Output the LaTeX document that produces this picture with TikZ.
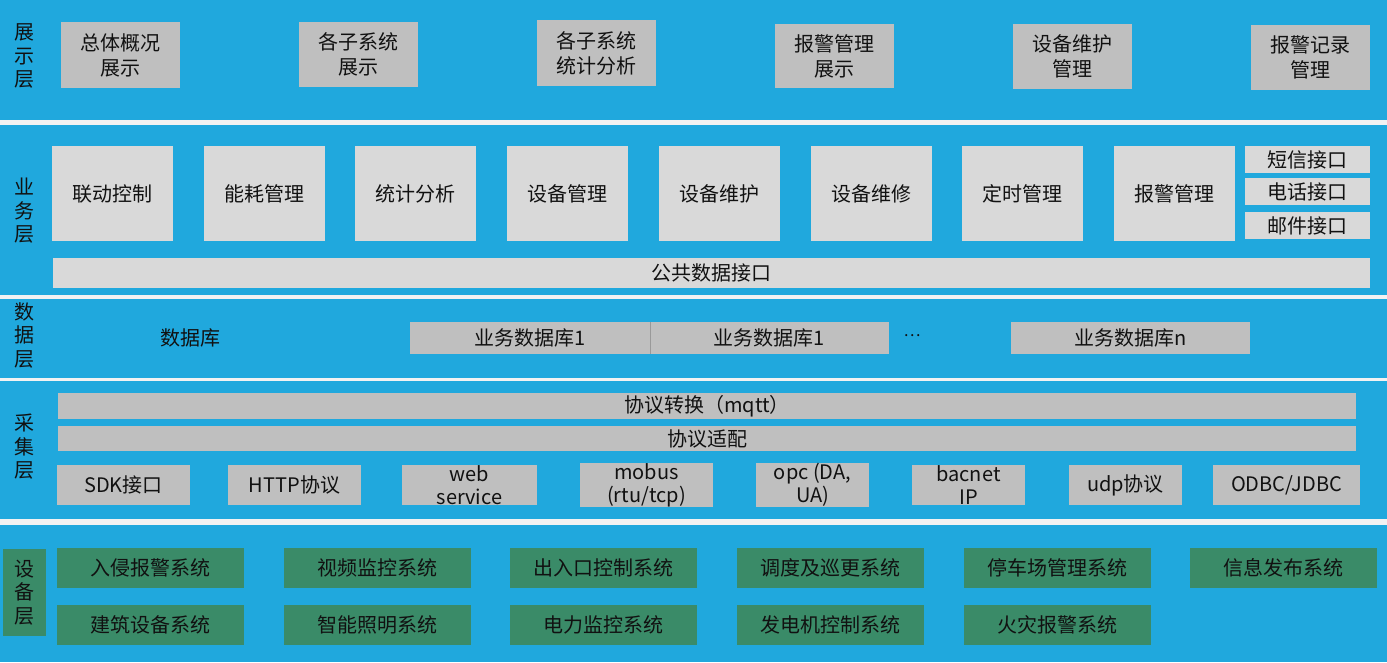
\documentclass[tikz,border=0pt]{standalone}
\usepackage{fontspec}
\setmainfont{Noto Sans CJK SC}
\definecolor{bgblue}{HTML}{20A8DD}
\definecolor{sepw}{HTML}{F2F2F2}
\definecolor{gA}{HTML}{BFBFBF}
\definecolor{gB}{HTML}{D9D9D9}
\definecolor{grn}{HTML}{3A8B68}
\definecolor{txt}{HTML}{111111}
\newcommand\myfs{\fontsize{20}{25}\selectfont}
\newcommand\bx[7]{\node[#2, minimum width={(#5-#3)*1pt}, minimum height={(#6-#4)*1pt}] (#1) at ({(#3+#5)/2},{(#4+#6)/2}) {#7};}
\begin{document}
\begin{tikzpicture}[x=1pt,y=-1pt,
  base/.style={inner sep=0pt, outer sep=0pt, align=center, text=txt, font=\myfs},
  boxA/.style={base, fill=gA},
  boxB/.style={base, fill=gB},
  boxG/.style={base, fill=grn},
  lbl/.style={base, font=\fontsize{20}{23.5}\selectfont},
  two/.style={font=\fontsize{20}{23}\selectfont},
  sep/.style={fill=sepw}]
\useasboundingbox (0,0) rectangle (1387,662);
\fill[bgblue] (0,0) rectangle (1387,662);
% separators
\fill[sep] (0,120) rectangle (1387,124.5);
\fill[sep] (0,294.5) rectangle (1387,298.5);
\fill[sep] (0,377.5) rectangle (1387,381);
\fill[sep] (0,519) rectangle (1387,525);
% layer labels
\node[lbl] (L1) at (24,56) {展\\示\\层};
\node[lbl] (L2) at (24,211) {业\\务\\层};
\node[lbl] (L3) at (24,335) {数\\据\\层};
\node[lbl] (L4) at (24,447) {采\\集\\层};
\bx{L5}{boxG,lbl}{3}{549}{46}{636}{设\\备\\层}
% presentation layer
\bx{p1}{boxA}{61}{22}{180}{88}{总体概况\\展示}
\bx{p2}{boxA}{299}{22}{418}{87}{各子系统\\展示}
\bx{p3}{boxA}{537}{20}{656}{86}{各子系统\\统计分析}
\bx{p4}{boxA}{775}{24}{894}{88}{报警管理\\展示}
\bx{p5}{boxA}{1013}{24}{1132}{89}{设备维护\\管理}
\bx{p6}{boxA}{1251}{25}{1370}{90}{报警记录\\管理}
% business layer
\bx{b1}{boxB}{52}{146}{173}{241}{联动控制}
\bx{b2}{boxB}{204}{146}{325}{241}{能耗管理}
\bx{b3}{boxB}{355}{146}{476}{241}{统计分析}
\bx{b4}{boxB}{507}{146}{628}{241}{设备管理}
\bx{b5}{boxB}{659}{146}{780}{241}{设备维护}
\bx{b6}{boxB}{811}{146}{932}{241}{设备维修}
\bx{b7}{boxB}{962}{146}{1083}{241}{定时管理}
\bx{b8}{boxB}{1114}{146}{1235}{241}{报警管理}
\bx{i1}{boxB}{1245}{146}{1370}{173}{短信接口}
\bx{i2}{boxB}{1245}{178}{1370}{205}{电话接口}
\bx{i3}{boxB}{1245}{212}{1370}{239}{邮件接口}
\bx{pub}{boxB}{53}{258}{1370}{288}{公共数据接口}
% data layer
\node[base] (db) at (190,338) {数据库};
\bx{d1}{boxA}{410}{322}{650}{354}{业务数据库1}
\bx{d2}{boxA}{650}{322}{889}{354}{业务数据库1}
\draw[gray!80, line width=0.6pt] (d1.north east) -- (d1.south east);
\node[base, font=\fontsize{16}{20}\selectfont] (dots) at (912,336) {…};
\bx{dn}{boxA}{1011}{322}{1250}{354}{业务数据库n}
% collection layer
\bx{c1}{boxA}{58}{393}{1356}{419}{协议转换（mqtt）}
\bx{c2}{boxA}{58}{426}{1356}{451}{协议适配}
\bx{s1}{boxA}{57}{465}{190}{505}{SDK接口}
\bx{s2}{boxA}{228}{465}{361}{505}{HTTP协议}
\bx{s3}{boxA,two}{402}{465}{537}{505}{web\\service}
\bx{s4}{boxA,two}{580}{465}{713}{505}{mobus\\(rtu/tcp)}
\bx{s5}{boxA,two}{756}{465}{869}{505}{opc (DA,\\UA)}
\bx{s6}{boxA,two}{912}{465}{1025}{505}{bacnet\\IP}
\bx{s7}{boxA}{1069}{465}{1182}{505}{udp协议}
\bx{s8}{boxA}{1213}{465}{1360}{505}{ODBC/JDBC}
% device layer
\bx{e1}{boxG}{57}{548}{244}{588}{入侵报警系统}
\bx{e2}{boxG}{284}{548}{471}{588}{视频监控系统}
\bx{e3}{boxG}{510}{548}{697}{588}{出入口控制系统}
\bx{e4}{boxG}{737}{548}{924}{588}{调度及巡更系统}
\bx{e5}{boxG}{964}{548}{1151}{588}{停车场管理系统}
\bx{e6}{boxG}{1190}{548}{1377}{588}{信息发布系统}
\bx{f1}{boxG}{57}{605}{244}{645}{建筑设备系统}
\bx{f2}{boxG}{284}{605}{471}{645}{智能照明系统}
\bx{f3}{boxG}{510}{605}{697}{645}{电力监控系统}
\bx{f4}{boxG}{737}{605}{924}{645}{发电机控制系统}
\bx{f5}{boxG}{964}{605}{1151}{645}{火灾报警系统}
\end{tikzpicture}
\end{document}
